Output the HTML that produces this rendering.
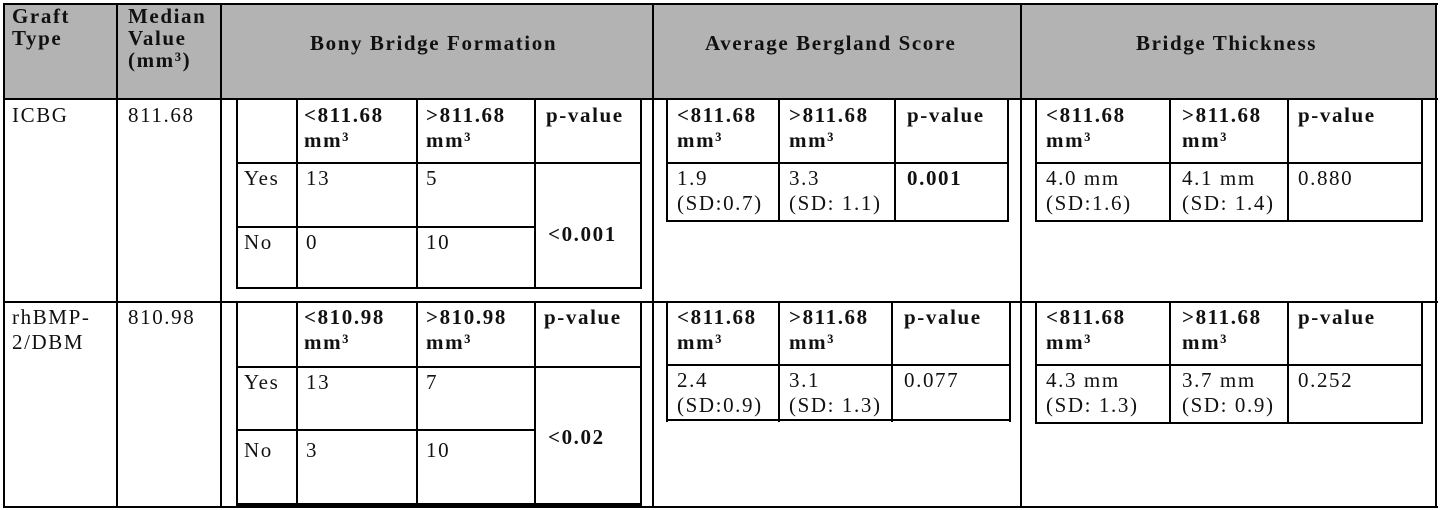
<!DOCTYPE html>
<html><head><meta charset="utf-8"><style>
body{margin:0;width:1440px;height:510px;background:#fff;position:relative;overflow:hidden;font-family:"Liberation Serif",serif;font-size:21px;letter-spacing:1.6px;color:#111}
.h{position:absolute;height:2px;background:#000}
.v{position:absolute;width:2px;background:#000}
.t{position:absolute;line-height:25px;white-space:nowrap}
.b{font-weight:bold}
</style></head><body>
<div style="position:absolute;left:3px;top:3px;width:1433px;height:96px;background:#b3b3b3"></div>
<div class="h" style="left:3px;top:3px;width:1435px"></div>
<div class="h" style="left:3px;top:98px;width:1435px"></div>
<div class="h" style="left:3px;top:301px;width:1435px"></div>
<div class="h" style="left:3px;top:506px;width:1435px"></div>
<div class="v" style="left:3px;top:3px;height:505px"></div>
<div class="v" style="left:116px;top:3px;height:505px"></div>
<div class="v" style="left:220px;top:3px;height:505px"></div>
<div class="v" style="left:652px;top:3px;height:505px"></div>
<div class="v" style="left:1020px;top:3px;height:505px"></div>
<div class="v" style="left:1435px;top:3px;height:505px"></div>
<div class="t b" style="left:12px;top:5px;line-height:22px">Graft<br>Type</div>
<div class="t b" style="left:128px;top:5px;line-height:22px">Median<br>Value<br>(mm³)</div>
<div class="t b" style="left:310px;top:31px">Bony Bridge Formation</div>
<div class="t b" style="left:705px;top:31px">Average Bergland Score</div>
<div class="t b" style="left:1136px;top:31px">Bridge Thickness</div>
<div class="t" style="left:12px;top:103px">ICBG</div>
<div class="t" style="left:128px;top:103px">811.68</div>
<div class="t" style="left:12px;top:305px">rhBMP-<br>2/DBM</div>
<div class="t" style="left:128px;top:305px">810.98</div>

<div class="v" style="left:236px;top:99px;height:190px"></div>
<div class="v" style="left:296px;top:99px;height:190px"></div>
<div class="v" style="left:416px;top:99px;height:190px"></div>
<div class="v" style="left:534px;top:99px;height:190px"></div>
<div class="v" style="left:640px;top:99px;height:190px"></div>
<div class="h" style="left:236px;top:162px;width:406px"></div>
<div class="h" style="left:236px;top:226px;width:300px"></div>
<div class="h" style="left:236px;top:287px;width:406px"></div>
<div class="t b" style="left:304px;top:103px">&lt;811.68<br>mm³</div>
<div class="t b" style="left:426px;top:103px">&gt;811.68<br>mm³</div>
<div class="t b" style="left:546px;top:103px">p-value</div>
<div class="t" style="left:244px;top:166px">Yes</div>
<div class="t" style="left:306px;top:166px">13</div>
<div class="t" style="left:426px;top:166px">5</div>
<div class="t" style="left:244px;top:230px">No</div>
<div class="t" style="left:306px;top:230px">0</div>
<div class="t" style="left:426px;top:230px">10</div>
<div class="t b" style="left:548px;top:222px">&lt;0.001</div>

<div class="v" style="left:236px;top:302px;height:204px"></div>
<div class="v" style="left:296px;top:302px;height:204px"></div>
<div class="v" style="left:416px;top:302px;height:204px"></div>
<div class="v" style="left:534px;top:302px;height:204px"></div>
<div class="v" style="left:640px;top:302px;height:204px"></div>
<div class="h" style="left:236px;top:366px;width:406px"></div>
<div class="h" style="left:236px;top:429px;width:300px"></div>
<div class="h" style="left:236px;top:503px;width:406px;height:3px"></div>
<div class="t b" style="left:304px;top:305px">&lt;810.98<br>mm³</div>
<div class="t b" style="left:426px;top:305px">&gt;810.98<br>mm³</div>
<div class="t b" style="left:544px;top:305px">p-value</div>
<div class="t" style="left:244px;top:370px">Yes</div>
<div class="t" style="left:306px;top:370px">13</div>
<div class="t" style="left:426px;top:370px">7</div>
<div class="t" style="left:244px;top:438px">No</div>
<div class="t" style="left:306px;top:438px">3</div>
<div class="t" style="left:426px;top:438px">10</div>
<div class="t b" style="left:548px;top:425px">&lt;0.02</div>

<div class="v" style="left:666px;top:99px;height:123px"></div>
<div class="v" style="left:778px;top:99px;height:123px"></div>
<div class="v" style="left:894px;top:99px;height:123px"></div>
<div class="v" style="left:1007px;top:99px;height:123px"></div>
<div class="h" style="left:666px;top:162px;width:343px"></div>
<div class="h" style="left:666px;top:220px;width:343px"></div>
<div class="t b" style="left:677px;top:103px">&lt;811.68<br>mm³</div>
<div class="t b" style="left:789px;top:103px">&gt;811.68<br>mm³</div>
<div class="t b" style="left:907px;top:103px">p-value</div>
<div class="t" style="left:677px;top:166px">1.9<br>(SD:0.7)</div>
<div class="t" style="left:789px;top:166px">3.3<br>(SD: 1.1)</div>
<div class="t b" style="left:907px;top:166px">0.001</div>

<div class="v" style="left:666px;top:302px;height:120px"></div>
<div class="v" style="left:778px;top:302px;height:120px"></div>
<div class="v" style="left:891px;top:302px;height:120px"></div>
<div class="v" style="left:1009px;top:302px;height:120px"></div>
<div class="h" style="left:666px;top:364px;width:345px"></div>
<div class="h" style="left:666px;top:419px;width:345px"></div>
<div class="t b" style="left:677px;top:305px">&lt;811.68<br>mm³</div>
<div class="t b" style="left:789px;top:305px">&gt;811.68<br>mm³</div>
<div class="t b" style="left:904px;top:305px">p-value</div>
<div class="t" style="left:677px;top:368px">2.4<br>(SD:0.9)</div>
<div class="t" style="left:789px;top:368px">3.1<br>(SD: 1.3)</div>
<div class="t" style="left:904px;top:368px">0.077</div>

<div class="v" style="left:1035px;top:99px;height:123px"></div>
<div class="v" style="left:1169px;top:99px;height:123px"></div>
<div class="v" style="left:1287px;top:99px;height:123px"></div>
<div class="v" style="left:1421px;top:99px;height:123px"></div>
<div class="h" style="left:1035px;top:162px;width:388px"></div>
<div class="h" style="left:1035px;top:220px;width:388px"></div>
<div class="t b" style="left:1046px;top:103px">&lt;811.68<br>mm³</div>
<div class="t b" style="left:1182px;top:103px">&gt;811.68<br>mm³</div>
<div class="t b" style="left:1298px;top:103px">p-value</div>
<div class="t" style="left:1046px;top:166px">4.0 mm<br>(SD:1.6)</div>
<div class="t" style="left:1182px;top:166px">4.1 mm<br>(SD: 1.4)</div>
<div class="t" style="left:1298px;top:166px">0.880</div>

<div class="v" style="left:1035px;top:302px;height:122px"></div>
<div class="v" style="left:1169px;top:302px;height:122px"></div>
<div class="v" style="left:1287px;top:302px;height:122px"></div>
<div class="v" style="left:1421px;top:302px;height:122px"></div>
<div class="h" style="left:1035px;top:364px;width:388px"></div>
<div class="h" style="left:1035px;top:422px;width:388px"></div>
<div class="t b" style="left:1046px;top:305px">&lt;811.68<br>mm³</div>
<div class="t b" style="left:1182px;top:305px">&gt;811.68<br>mm³</div>
<div class="t b" style="left:1298px;top:305px">p-value</div>
<div class="t" style="left:1046px;top:368px">4.3 mm<br>(SD: 1.3)</div>
<div class="t" style="left:1182px;top:368px">3.7 mm<br>(SD: 0.9)</div>
<div class="t" style="left:1298px;top:368px">0.252</div>
</body></html>
